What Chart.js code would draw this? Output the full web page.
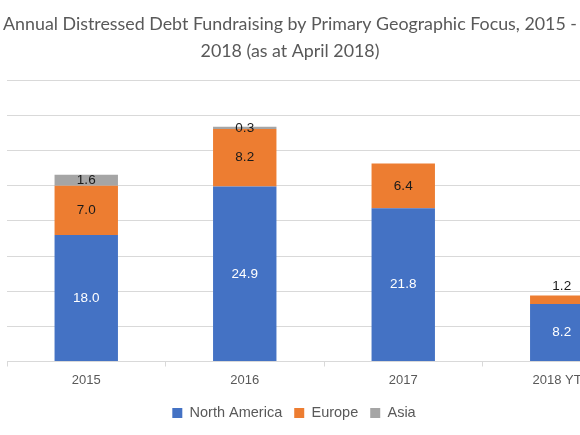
<!DOCTYPE html>
<html><head><meta charset="utf-8">
<script src="https://cdn.jsdelivr.net/npm/chart.js@4.4.0/dist/chart.umd.min.js"></script>
<style>
html,body{margin:0;padding:0;width:580px;height:435px;overflow:hidden;background:#fff}
#wrap{width:660px;height:435px}
</style></head>
<body><div id="wrap"><canvas id="c" width="660" height="435"></canvas></div>
<script>
const categories = ['2015', '2016', '2017', '2018 YTD'];
const northAmerica = [18.0, 24.9, 21.8, 8.2];
const europe = [7.0, 8.2, 6.4, 1.2];
const asia = [1.6, 0.3, null, null];
const seriesNames = ['North America', 'Europe', 'Asia'];
const seriesColors = ['#4472C4', '#ED7D31', '#A5A5A5'];
const titleLines = ['Annual Distressed Debt Fundraising by Primary Geographic Focus, 2015 -', '2018 (as at April 2018)'];
const yMin = 0, yMax = 40, yStep = 5;

// fit title font size to the reference line width
const mctx = document.createElement('canvas').getContext('2d');
mctx.font = '17px Lato';
const titleSize = 17 * 574 / mctx.measureText(titleLines[0]).width;

const VIEW_W = 580;
const LEGEND_CENTER = 294;
const LEGEND_SHIFT = -1.4;

const recenter = {
  id: 'recenter',
  afterLayout(chart) {
    const t = chart.titleBlock;
    if (t) { t.left = 0; t.right = VIEW_W; t.width = VIEW_W; }
    const l = chart.legend;
    if (l) {
      const half = Math.min(LEGEND_CENTER, VIEW_W - LEGEND_CENTER);
      l.left = LEGEND_CENTER - half; l.right = LEGEND_CENTER + half; l.width = 2 * half;
      l.top += LEGEND_SHIFT; l.bottom += LEGEND_SHIFT;
    }
  }
};

const valueLabels = {
  id: 'valueLabels',
  afterDatasetsDraw(chart) {
    const ctx = chart.ctx;
    ctx.save();
    ctx.font = '13.5px "Liberation Sans", Arial, sans-serif';
    ctx.textAlign = 'center';
    ctx.textBaseline = 'middle';
    chart.data.datasets.forEach((ds, di) => {
      const meta = chart.getDatasetMeta(di);
      meta.data.forEach((el, i) => {
        const v = ds.data[i];
        if (v === null || v === undefined) return;
        const {x, y, base} = el.getProps(['x', 'y', 'base'], true);
        let ty = (y + base) / 2;
        if (di === 1 && Math.abs(base - y) < 10) ty = y - 9;
        ctx.fillStyle = di === 0 ? '#ffffff' : '#1a1a1a';
        ctx.fillText(v.toFixed(1), x, ty);
      });
    });
    ctx.restore();
  }
};

new Chart(document.getElementById('c'), {
  type: 'bar',
  data: {
    labels: categories,
    datasets: [
      { label: seriesNames[0], data: northAmerica, backgroundColor: seriesColors[0] },
      { label: seriesNames[1], data: europe, backgroundColor: seriesColors[1] },
      { label: seriesNames[2], data: asia, backgroundColor: seriesColors[2] }
    ]
  },
  options: {
    responsive: false,
    animation: false,
    devicePixelRatio: 1,
    datasets: { bar: { barPercentage: 0.4, categoryPercentage: 1.0, borderWidth: 0 } },
    layout: { padding: { left: 7, right: 19, top: 0, bottom: 3.4 } },
    plugins: {
      title: {
        display: true,
        text: titleLines,
        color: '#595959',
        font: { family: 'Lato', size: titleSize, weight: 'normal', lineHeight: 1.5 },
        padding: { top: 11, bottom: 16 }
      },
      legend: {
        position: 'bottom',
        labels: {
          boxWidth: 10, boxHeight: 10, padding: 12,
          color: '#595959',
          font: { family: 'Liberation Sans', size: 14.5 }
        }
      },
      tooltip: { enabled: false }
    },
    scales: {
      x: {
        stacked: true,
        grid: { display: true, drawOnChartArea: false, drawTicks: true, tickLength: 5, color: '#d9d9d9', offset: true },
        border: { display: true, color: '#d9d9d9', width: 1 },
        ticks: { color: '#595959', padding: 6.5, font: { family: 'Liberation Sans', size: 13 }, maxRotation: 0, autoSkip: false }
      },
      y: {
        stacked: true,
        min: yMin, max: yMax,
        ticks: { display: false, stepSize: yStep },
        grid: { color: '#d9d9d9', lineWidth: 1, drawTicks: false },
        border: { display: false },
        afterFit(s) { s.width = 0; }
      }
    }
  },
  plugins: [recenter, valueLabels]
});
</script>
</body></html>
